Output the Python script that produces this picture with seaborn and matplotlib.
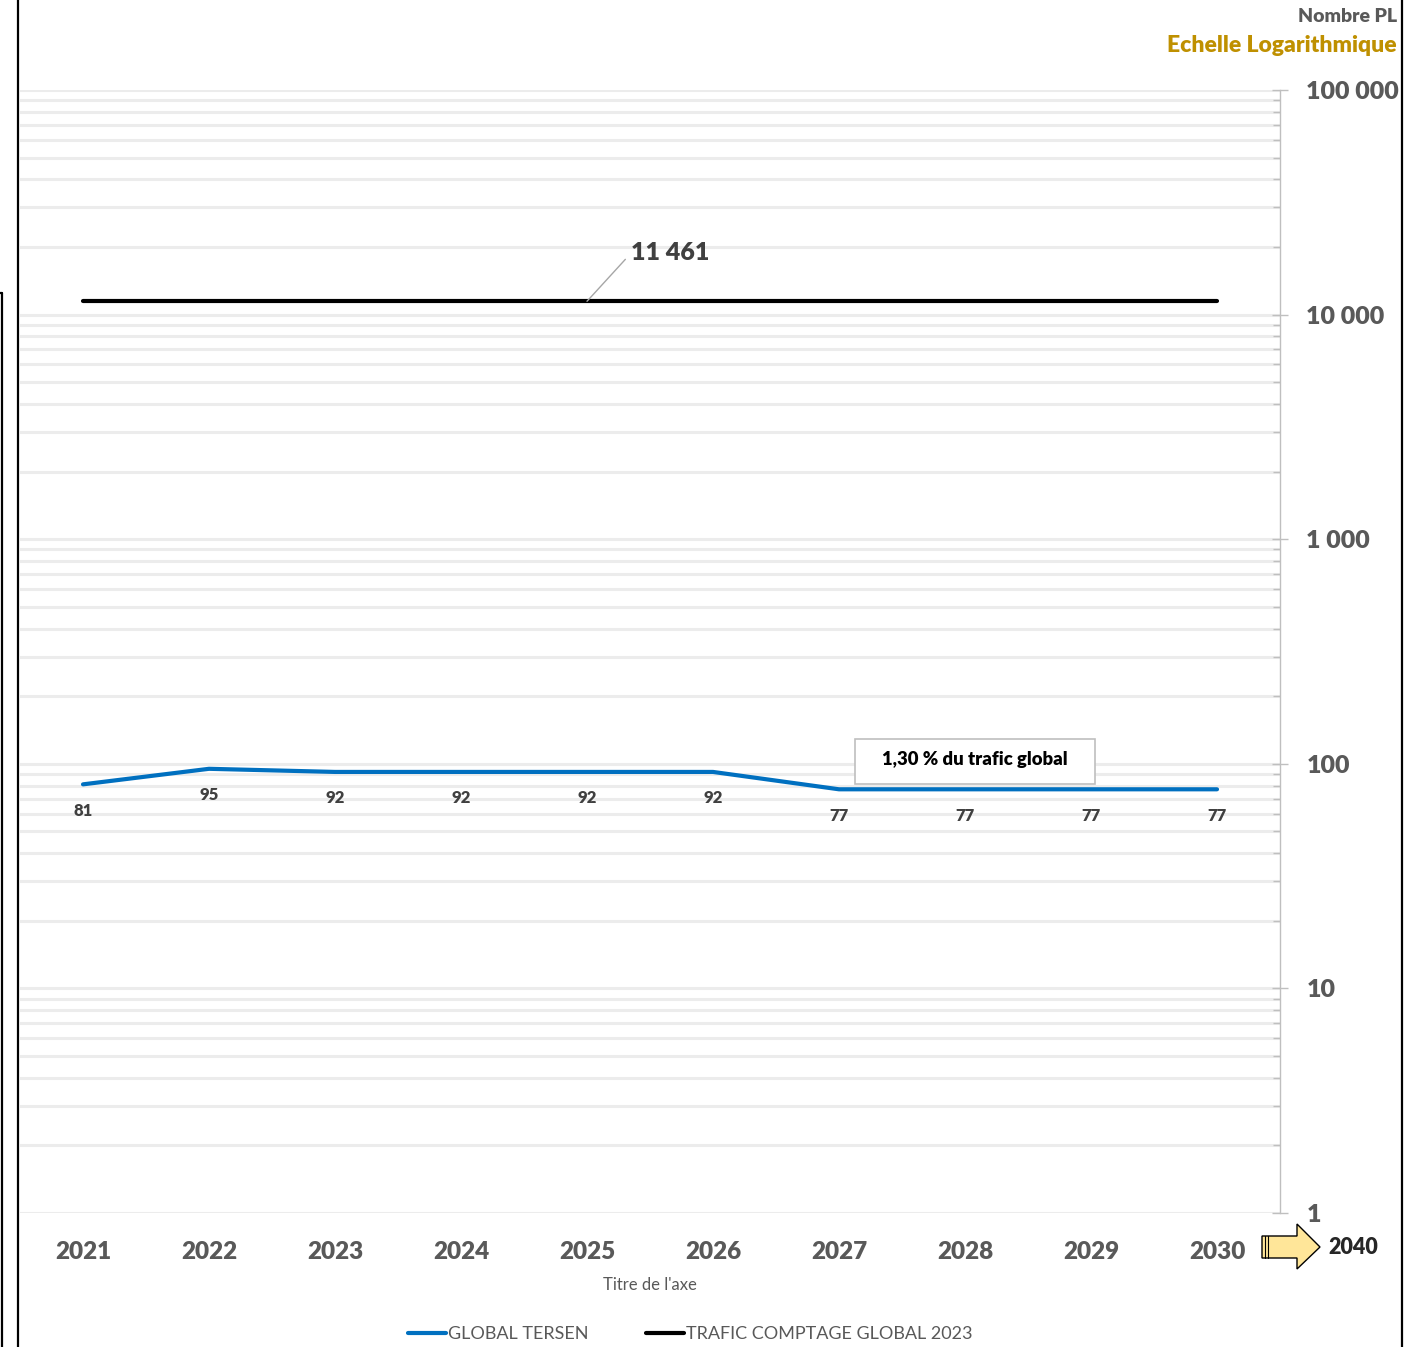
import numpy as np
import pandas as pd
import matplotlib.pyplot as plt
import seaborn as sns
from matplotlib.lines import Line2D
from matplotlib.patches import Polygon, Rectangle
from matplotlib.ticker import FixedLocator, LogLocator, FuncFormatter, NullFormatter

W, H = 1426, 1347

years = list(range(2021, 2031))
tersen = [81, 95, 92, 92, 92, 92, 77, 77, 77, 77]
comptage = [11461] * 10
series_names = ["GLOBAL TERSEN", "TRAFIC COMPTAGE GLOBAL 2023"]
series_colors = {"GLOBAL TERSEN": "#0070C0", "TRAFIC COMPTAGE GLOBAL 2023": "#000000"}
y_ticks = [1, 10, 100, 1000, 10000, 100000]
comptage_label = "11 461"
share_note = "1,30 % du trafic global"

df = pd.DataFrame({
    "annee": years * 2,
    "pl": tersen + comptage,
    "serie": [series_names[0]] * len(years) + [series_names[1]] * len(years),
})

sns.set_style("white")
plt.rcParams["font.family"] = ["Lato", "DejaVu Sans"]
GRAY = "#595959"
BOLD = "heavy"


def fx(px):
    return px / W


def fy(py):
    return 1 - py / H


fig = plt.figure(figsize=(W / 100, H / 100), dpi=100)
ax = fig.add_axes([fx(20), fy(1213), fx(1280) - fx(20), fy(90) - fy(1213)])

sns.lineplot(data=df, x="annee", y="pl", hue="serie", palette=series_colors,
             linewidth=3, ax=ax, legend=True, zorder=3)

ax.set_yscale("log")
ax.set_ylim(1, 100000)
ax.set_xlim(years[0] - 0.5, years[-1] + 0.5)

# y axis on the right, log grid
ax.yaxis.tick_right()
ax.yaxis.set_major_locator(FixedLocator(y_ticks))
ax.yaxis.set_minor_locator(LogLocator(base=10, subs=np.arange(2, 10)))
ax.yaxis.set_major_formatter(FuncFormatter(lambda v, p: f"{int(v):,}".replace(",", " ")))
ax.yaxis.set_minor_formatter(NullFormatter())
ax.tick_params(axis="y", which="major", direction="inout", length=12, width=1,
               color="#bfbfbf", labelsize=18, labelcolor=GRAY, pad=13)
ax.tick_params(axis="y", which="minor", direction="in", length=5, width=1, color="#bfbfbf")
for t in ax.yaxis.get_major_ticks():
    t.label2.set_fontweight(BOLD)
ax.grid(True, which="both", axis="y", color="#ececec", linewidth=2.2)
ax.set_axisbelow(True)

ax.set_xticks(years)
ax.set_xticklabels([str(y) for y in years], fontsize=17.5, fontweight=BOLD, color=GRAY)
ax.tick_params(axis="x", length=0, pad=20)
ax.set_xlabel("Titre de l'axe", fontsize=12, color=GRAY, labelpad=10)
ax.set_ylabel("")

for s in ["top", "left", "bottom"]:
    ax.spines[s].set_visible(False)
ax.spines["right"].set_color("#bfbfbf")
ax.spines["right"].set_linewidth(1)

# data labels under the blue series
for x, v in zip(years, tersen):
    ax.annotate(str(v), (x, v), xytext=(0, -19), textcoords="offset points",
                ha="center", va="center", fontsize=12, fontweight=BOLD, color="#404040")

# label of the black series
ax.annotate(comptage_label, (years[4], comptage[4]), xytext=(32, 35), textcoords="offset points",
            ha="left", va="center", fontsize=18, fontweight=BOLD, color="#404040",
            arrowprops=dict(arrowstyle="-", color="#a6a6a6", lw=1, shrinkA=3, shrinkB=0,
                            relpos=(0, 0.5)))

# legend
handles, labels = ax.get_legend_handles_labels()
ax.get_legend().remove()
leg = fig.legend(handles, labels, loc="center", bbox_to_anchor=(fx(690), fy(1334)), ncol=2,
                 frameon=False, fontsize=13, handlelength=2.1, handletextpad=0.1,
                 columnspacing=3.2, labelcolor=GRAY)

# axis captions
fig.text(fx(1397), fy(16), "Nombre PL", ha="right", va="center", fontsize=14,
         fontweight=BOLD, color=GRAY)
fig.text(fx(1397), fy(45), "Echelle Logarithmique", ha="right", va="center", fontsize=16.5,
         fontweight=BOLD, color="#BF9000")

# note box
fig.add_artist(Rectangle((fx(855), fy(784)), fx(1095) - fx(855), fy(739) - fy(784),
                         transform=fig.transFigure, facecolor="white", edgecolor="#bfbfbf",
                         linewidth=1.2, zorder=5))
fig.text(fx(975), fy(759), share_note, ha="center", va="center", fontsize=13.3,
         fontweight=BOLD, color="#000000", zorder=6)

# arrow to 2040
arrow_px = [(1262, 1236), (1297, 1236), (1297, 1224), (1320, 1247), (1297, 1269),
            (1297, 1258), (1262, 1258)]
fig.add_artist(Polygon([(fx(x), fy(y)) for x, y in arrow_px], closed=True,
                       transform=fig.transFigure, facecolor="#FFE699", edgecolor="#000000",
                       linewidth=1))
for sx in (1265, 1268):
    fig.add_artist(Line2D([fx(sx), fx(sx)], [fy(1236), fy(1258)], color="#000000", lw=0.8))
fig.text(fx(1328), fy(1248), "2040", ha="left", va="center", fontsize=15.5,
         fontweight=BOLD, color="#262626")

# frame lines
fig.add_artist(Line2D([fx(18), fx(18)], [0, 1], color="#000000", lw=1.6))
fig.add_artist(Line2D([fx(1402), fx(1402)], [0, 1], color="#000000", lw=1.6))
fig.add_artist(Line2D([fx(2), fx(2)], [0, fy(293)], color="#000000", lw=1.6))
fig.add_artist(Line2D([0, fx(2)], [fy(293), fy(293)], color="#000000", lw=1.6))

fig.savefig("out.png", dpi=100)
